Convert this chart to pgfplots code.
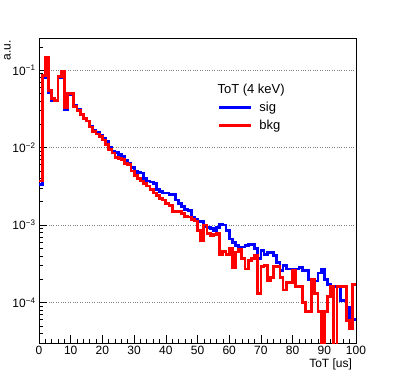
\documentclass[border=0pt]{standalone}
\usepackage{fontspec}
\setmainfont{Liberation Sans}
\usepackage{pgfplots}
\pgfplotsset{compat=1.18}
\usepackage{pgfplotstable}

% ToT histograms, 1 us bins, last row repeats bin 99 to close the step
\pgfplotstableread{
x y
0 0.0033
1 0.079
2 0.140
3 0.052
4 0.041
5 0.040
6 0.080
7 0.095
8 0.031
9 0.049
10 0.049
11 0.035
12 0.031
13 0.027
14 0.024
15 0.022
16 0.019
17 0.0165
18 0.0155
19 0.0145
20 0.0130
21 0.0119
22 0.0100
23 0.0088
24 0.0086
25 0.0082
26 0.0076
27 0.0069
28 0.0063
29 0.0055
30 0.0049
31 0.0048
32 0.0047
33 0.0040
34 0.0037
35 0.0036
36 0.0034
37 0.0029
38 0.0027
39 0.0026
40 0.0026
41 0.0025
42 0.0025
43 0.0021
44 0.0019
45 0.00175
46 0.0016
47 0.00155
48 0.00125
49 0.0012
50 0.00113
51 0.0011
52 0.00095
53 0.00092
54 0.0009
55 0.00084
56 0.00093
57 0.00102
58 0.001
59 0.00086
60 0.00066
61 0.0006
62 0.00055
63 0.00052
64 0.00052
65 0.00054
66 0.00057
67 0.00056
68 0.0005
69 0.00037
70 0.00047
71 0.00042
72 0.00044
73 0.00045
74 0.0004
75 0.00033
76 0.00026
77 0.0003
78 0.00027
79 0.00027
80 0.00026
81 0.00027
82 0.00028
83 0.00026
84 0.00026
85 0.0002
86 0.00019
87 0.00019
88 0.00024
89 0.00027
90 0.0002
91 0.00017
92 0.000126
93 0.00016
94 0.00016
95 0.000107
96 0.000107
97 0.000087
98 0.00006
99 0.00006
100 0.00006
}\sig

\pgfplotstableread{
x y
0 0.0037
1 0.085
2 0.148
3 0.054
4 0.043
5 0.041
6 0.082
7 0.097
8 0.033
9 0.050
10 0.050
11 0.034
12 0.030
13 0.027
14 0.024
15 0.022
16 0.0185
17 0.016
18 0.015
19 0.0138
20 0.0125
21 0.0110
22 0.0095
23 0.0085
24 0.0075
25 0.0072
26 0.0070
27 0.0063
28 0.0060
29 0.0050
30 0.0044
31 0.0040
32 0.0037
33 0.0034
34 0.0032
35 0.0029
36 0.0026
37 0.0024
38 0.0022
39 0.0021
40 0.0019
41 0.0018
42 0.0015
43 0.0015
44 0.0015
45 0.0014
46 0.0013
47 0.00127
48 0.00118
49 0.00113
50 0.00085
51 0.00063
52 0.001
53 0.00078
54 0.00074
55 0.00076
56 0.00078
57 0.00042
58 0.00046
59 0.00042
60 0.0005
61 0.00028
62 0.00045
63 0.00048
64 0.00037
65 0.00027
66 0.00035
67 0.00037
68 0.0004
69 0.00013
70 0.00029
71 0.0003
72 0.00019
73 0.00021
74 0.00029
75 0.00029
76 0.00021
77 0.000145
78 0.00018
79 0.00018
80 0.00026
81 0.00016
82 0.00016
83 0.0001
84 0.000076
85 0.000076
86 0.0002
87 0.00013
88 0.000076
89 0.000001
90 0.000076
91 0.00012
92 0.00016
93 0.000001
94 0.00016
95 0.00016
96 0.00016
97 0.000059
98 0.000046
99 0.00017
100 0.00017
}\bkg

\begin{document}
\begin{tikzpicture}
\path[use as bounding box] (0pt,0pt) rectangle (395pt,382pt);
\begin{axis}[
    at={(39pt,39pt)}, anchor=south west,
    scale only axis, width=317pt, height=305pt,
    ymode=log,
    xmin=0, xmax=100, ymin=3e-5, ymax=0.26,
    axis line style={line width=0.8pt},
    tick align=inside, xtick pos=bottom, ytick pos=left,
    xtick={0,10,...,100}, minor x tick num=4,
    ytick={1e-4,1e-3,1e-2,1e-1},
    yticklabels={10\textsuperscript{−4},10\textsuperscript{−3},10\textsuperscript{−2},10\textsuperscript{−1}},
    minor ytick={4e-5,5e-5,6e-5,7e-5,8e-5,9e-5,
                 2e-4,3e-4,4e-4,5e-4,6e-4,7e-4,8e-4,9e-4,
                 2e-3,3e-3,4e-3,5e-3,6e-3,7e-3,8e-3,9e-3,
                 2e-2,3e-2,4e-2,5e-2,6e-2,7e-2,8e-2,9e-2,0.2},
    ymajorgrids, major grid style={dotted, gray, line width=0.6pt},
    tick style={black, line width=0.6pt},
    major tick length=8pt, minor tick length=4pt,
    ticklabel style={font=\fontsize{12}{14}\selectfont},
    /pgf/number format/assume math mode=true,
    legend style={draw=none, fill=none, at={(0.553,0.805)}, anchor=north west,
        font=\fontsize{13}{15}\selectfont, row sep=3pt},
    legend cell align=left,
    legend image code/.code={\draw[#1, line width=3pt] (0pt,0pt) -- (32pt,0pt);
        \path (37pt,0pt);},
]
\addplot[const plot mark left, blue, line width=2.8pt] table[x=x, y=y] {\sig};
\addlegendentry{sig}
\addplot[const plot mark left, red, line width=2.8pt] table[x=x, y=y] {\bkg};
\addlegendentry{bkg}
\end{axis}
\node[anchor=west, font=\fontsize{13}{15}\selectfont] at (214pt,292pt) {ToT (4 keV)};
\node[rotate=90, anchor=base east, font=\fontsize{12}{14}\selectfont] at (10.5pt,345pt) {a.u.};
\node[anchor=base east, font=\fontsize{12}{14}\selectfont] at (355.5pt,14.5pt) {ToT [us]};
\end{tikzpicture}
\end{document}
